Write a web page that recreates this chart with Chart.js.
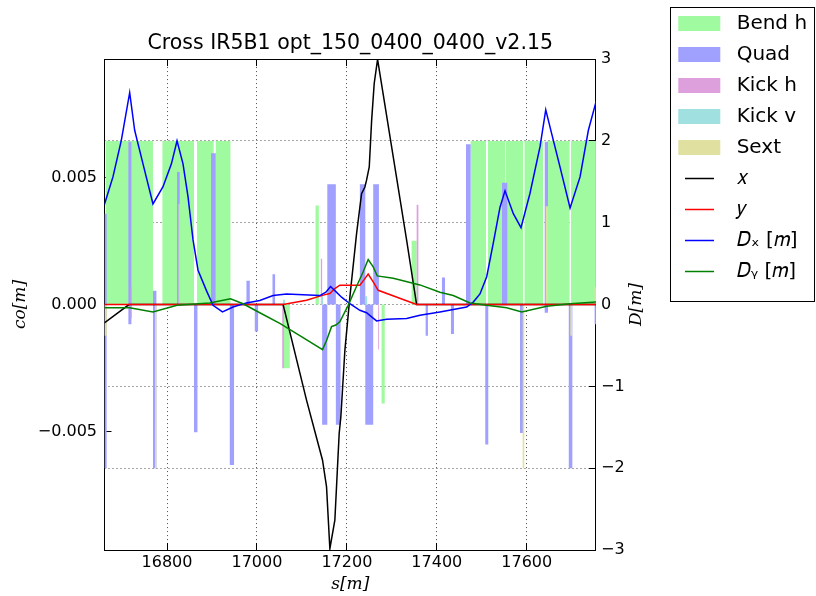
<!DOCTYPE html>
<html>
<head>
<meta charset="utf-8">
<script src="https://cdn.jsdelivr.net/npm/chart.js@4.4.1/dist/chart.umd.min.js"></script>
<style>
  html, body { margin: 0; padding: 0; background: #fff; }
  #wrap { width: 816px; height: 596px; }
</style>
</head>
<body>
<div id="wrap"><canvas id="c" width="816" height="596"></canvas></div>
<script>
// Longitudinal range and tick values
const sMin = 16661, sMax = 17754;
const sTicks = [16800, 17000, 17200, 17400, 17600];
const coMin = -0.00965, coMax = 0.00965;
const coTicks = [-0.005, 0, 0.005];
const coTickLabels = ['\u22120.005', '0.000', '0.005'];
const dTicks = [-3, -2, -1, 0, 1, 2, 3];
const dTickLabels = ['\u22123', '\u22122', '\u22121', '0', '1', '2', '3'];

// Lattice elements: start / end position [m], upper and lower bar height (D scale)
const bendStart = [16663, 16789.8, 16866.8, 16908.4, 17059.8, 17130.3, 17277.2, 17344.0, 17475.3, 17513.9, 17553.9, 17595.1, 17646.3, 17698.6];
const bendEnd   = [16768.8, 16860.1, 16903.9, 16941.1, 17073.1, 17137.7, 17284.5, 17355.1, 17509.4, 17551.7, 17591.8, 17636.3, 17695.3, 17763];
const bendHi    = [2, 2, 2, 2, 0, 1.21, 0, 0.78, 2, 2, 2, 2, 2, 2];
const bendLo    = [0, 0, 0, 0, -0.78, 0, -1.21, 0, 0, 0, 0, 0, 0, 0];

const quadStart = [16658, 16714.1, 16768.8, 16822.3, 16860.1, 16897.9, 16939.6, 16976.7, 16995.2, 17034.6, 17145.0, 17156.5, 17175.5, 17228.9, 17241.0, 17258.6, 17375.2, 17411.5, 17431.5, 17464.9, 17507.8, 17545.0, 17585.1, 17640.0, 17693.5, 17751.0];
const quadEnd   = [16665.8, 16720.8, 16776.4, 16828.3, 16867.7, 16908.4, 16949.1, 16984.1, 17002.6, 17040.4, 17156.5, 17175.5, 17186.0, 17241.0, 17258.6, 17271.3, 17380.3, 17418.2, 17438.2, 17475.3, 17514.5, 17556.8, 17592.4, 17647.4, 17701.5, 17758];
const quadHi    = [1.11, 1.99, 0.17, 1.62, 0, 1.85, 0, 0.29, 0, 0.37, 0, 1.47, 0, 1.47, 0, 1.47, 0, 0.33, 0, 1.96, 0, 1.49, 0, 1.99, 0, 0];
const quadLo    = [-2.0, -0.24, -2.0, 0, -1.56, 0, -1.96, 0, -0.33, 0, -1.47, 0, -1.47, 0, -1.47, 0, -0.38, 0, -0.36, 0, -1.71, 0, -1.57, -0.10, -2.0, -0.24];

const kickHStart = [16718.6, 17056.3, 17142.1, 17269.7, 17355.2];
const kickHEnd   = [16721.5, 17060.1, 17145.0, 17272.0, 17359.6];
const kickHHi    = [0.21, 0, 0.56, 0, 1.22];
const kickHLo    = [-0.17, -0.78, 0, -0.55, 0];

const kickVStart = [17057.2, 17142.5, 17240.0];
const kickVEnd   = [17062.3, 17147.0, 17245.4];
const kickVHi    = [0.06, 0.12, 0.10];
const kickVLo    = [0, 0, 0];

const sextStart = [16658, 16773.3, 16825.3, 17591.0, 17642.2, 17697.0, 17751.0];
const sextEnd   = [16666, 16776.4, 16828.3, 17594.6, 17647.4, 17701.0, 17758];
const sextHi    = [0, 0, 1.23, 0, 1.2, 0, 0.21];
const sextLo    = [-0.38, -2.0, 0, -2.0, 0, -0.38, 0];

// Closed orbit [m]
const orbitXs = [16660.7, 16715.5, 17058.2, 17110.3, 17145.9, 17154.8, 17162.2, 17173.3, 17182.9, 17186.6, 17195.6, 17206.7, 17221.6, 17232.7, 17240.1, 17243.8, 17249.8, 17255.1, 17260.8, 17268.3, 17332.9, 17355.1, 17754.2];
const orbitX  = [-0.00072, 0, 0, -0.00376, -0.00612, -0.00717, -0.0096, -0.00848, -0.00507, -0.00442, -0.0018, 0.0003, 0.00279, 0.00436, 0.00462, 0.00489, 0.00541, 0.00724, 0.00869, 0.00964, 0.00253, 0, 0];
const orbitYs = [16660.7, 17058.2, 17110.3, 17147.2, 17162.2, 17173.3, 17184.4, 17228.9, 17237.6, 17247.4, 17258.6, 17269.7, 17355.1, 17754.2];
const orbitY  = [0, 0, 0.00017, 0.00037, 0.00043, 0.00063, 0.00076, 0.00076, 0.00096, 0.0012, 0.00089, 0.00056, 0, 0];

// Dispersion [m]
const dispXs = [16660.7, 16679.8, 16698.5, 16717.0, 16728.1, 16746.6, 16768.8, 16791.1, 16809.8, 16822.3, 16835.6, 16846.7, 16857.9, 16869.0, 16887.7, 16902.4, 16923.3, 16946.9, 16976.7, 17006.3, 17036.0, 17065.8, 17139.9, 17153.3, 17163.7, 17173.3, 17188.2, 17206.7, 17228.9, 17243.8, 17255.0, 17266.1, 17288.4, 17332.9, 17362.5, 17407.0, 17466.4, 17481.1, 17496.0, 17511.0, 17525.6, 17540.6, 17551.7, 17570.2, 17587.3, 17607.3, 17629.6, 17642.3, 17656.3, 17674.1, 17696.4, 17718.6, 17737.1, 17754.2];
const dispX  = [1.22, 1.56, 2.01, 2.59, 2.13, 1.72, 1.23, 1.44, 1.72, 2.00, 1.72, 1.32, 0.79, 0.42, 0.17, -0.01, -0.09, -0.03, 0.02, 0.05, 0.11, 0.13, 0.11, 0.15, 0.22, 0.17, 0.09, 0.01, -0.07, -0.10, -0.15, -0.20, -0.18, -0.17, -0.13, -0.09, -0.03, 0.03, 0.13, 0.34, 0.75, 1.19, 1.39, 1.11, 0.94, 1.36, 1.93, 2.38, 2.07, 1.68, 1.18, 1.56, 2.13, 2.48];
const dispYs = [16660.7, 16717.0, 16768.8, 16822.3, 16895.0, 16941.1, 16969.2, 17006.3, 17050.9, 17095.4, 17145.9, 17154.8, 17165.9, 17175.5, 17184.4, 17202.9, 17221.4, 17236.3, 17247.4, 17258.6, 17267.5, 17303.1, 17362.5, 17407.0, 17436.6, 17473.8, 17511.0, 17555.5, 17588.9, 17644.5, 17696.4, 17754.2];
const dispY  = [-0.04, -0.04, -0.09, -0.01, 0.02, 0.07, 0.01, -0.10, -0.23, -0.38, -0.55, -0.44, -0.27, -0.25, -0.21, -0.01, 0.22, 0.40, 0.55, 0.46, 0.35, 0.32, 0.24, 0.15, 0.11, 0.02, -0.01, -0.04, -0.09, -0.02, 0.01, 0.03];

// ---------------------------------------------------------------

// Outline of a row of bars as a step path along zero, filled to the origin
function barOutline(start, end, h) {
  const pts = [];
  start.forEach((s0, i) => {
    if (!h[i]) return;
    pts.push({x: s0, y: 0}, {x: s0, y: h[i]}, {x: end[i], y: h[i]}, {x: end[i], y: 0});
  });
  return pts;
}
const zip = (s, v) => s.map((x, i) => ({x, y: v[i]}));

// Short line glyph for the legend
function lineGlyph(color) {
  const c = document.createElement('canvas');
  c.width = 29; c.height = 3;
  const g = c.getContext('2d');
  g.strokeStyle = color; g.lineWidth = 1.5;
  g.beginPath(); g.moveTo(0, 1.5); g.lineTo(29, 1.5); g.stroke();
  return c;
}

const elementTypes = [
  {name: ' Bend h', color: 'rgb(160,250,160)', start: bendStart, end: bendEnd, hi: bendHi, lo: bendLo, order: 8},
  {name: ' Quad',   color: 'rgb(160,160,255)', start: quadStart, end: quadEnd, hi: quadHi, lo: quadLo, order: 7},
  {name: ' Kick h', color: 'rgb(221,160,221)', start: kickHStart, end: kickHEnd, hi: kickHHi, lo: kickHLo, order: 6},
  {name: ' Kick v', color: 'rgb(160,224,224)', start: kickVStart, end: kickVEnd, hi: kickVHi, lo: kickVLo, order: 5},
  {name: ' Sext',   color: 'rgb(224,224,160)', start: sextStart, end: sextEnd, hi: sextHi, lo: sextLo, order: 4}
];

const datasets = [];
elementTypes.forEach(t => {
  [t.hi, t.lo].forEach((h, k) => {
    const pts = barOutline(t.start, t.end, h);
    if (!pts.length) return;
    datasets.push({
      legendText: k === 0 ? t.name : null,
      legendGlyph: 'rect',
      data: pts,
      xAxisID: 'x', yAxisID: 'yR',
      borderWidth: 0, pointRadius: 0,
      backgroundColor: t.color, borderColor: t.color,
      fill: 'origin', order: t.order
    });
  });
});

const curves = [
  {name: ' \u{1D465}', s: orbitXs, v: orbitX, color: '#000000', axis: 'yL', order: 3},
  {name: ' \u{1D466}', s: orbitYs, v: orbitY, color: '#ff0000', axis: 'yL', order: 2},
  {name: ' \u{1D437}\u2093 [\u{1D45A}]', s: dispXs, v: dispX, color: '#0000ff', axis: 'yR', order: 1},
  {name: ' \u{1D437}\u1D67 [\u{1D45A}]', s: dispYs, v: dispY, color: '#008000', axis: 'yR', order: 0}
];
curves.forEach(c => {
  datasets.push({
    legendText: c.name,
    legendGlyph: lineGlyph(c.color),
    data: zip(c.s, c.v),
    xAxisID: 'x', yAxisID: c.axis,
    borderColor: c.color, backgroundColor: c.color,
    borderWidth: 1.5, pointRadius: 0, fill: false, tension: 0,
    order: c.order
  });
});

const tickFont = {family: 'DejaVu Sans', size: 16};
const mathFont = {family: 'DejaVu Serif', style: 'italic', size: 17};
const dotted = {display: true, color: '#000', width: 1, dash: [1, 3]};

// Legend frame and the right-hand axis title
const decorations = {
  id: 'decorations',
  afterDraw(chart) {
    const {ctx, legend, scales} = chart;
    ctx.save();
    ctx.strokeStyle = '#000';
    ctx.lineWidth = 1;
    const x0 = Math.round(legend.left + 2.7) + 0.5;
    const y0 = Math.round(legend.top + 4.5) + 0.5;
    ctx.strokeRect(x0, y0, 144, 294);
    const yR = scales.yR;
    ctx.translate(yR.left + 41, (yR.top + yR.bottom) / 2);
    ctx.rotate(-Math.PI / 2);
    ctx.font = 'italic 17px "DejaVu Serif"';
    ctx.textAlign = 'center';
    ctx.textBaseline = 'middle';
    ctx.fillStyle = '#000';
    ctx.fillText('D[m]', 0, 0);
    ctx.restore();
  }
};

Chart.defaults.font.family = 'DejaVu Sans';
Chart.defaults.color = '#000';

new Chart(document.getElementById('c'), {
  type: 'line',
  data: {datasets},
  plugins: [decorations],
  options: {
    responsive: false,
    animation: false,
    devicePixelRatio: 1,
    events: [],
    layout: {padding: {top: 2.5, right: 3.7, left: 0, bottom: 0}},
    plugins: {
      tooltip: {enabled: false},
      title: {
        display: true,
        text: 'Cross IR5B1 opt_150_0400_0400_v2.15',
        font: {family: 'DejaVu Sans', size: 20.5, weight: 'normal', lineHeight: 1.17},
        color: '#000',
        padding: {top: 29.5, bottom: 3.1},
        fullSize: false
      },
      legend: {
        position: 'right',
        align: 'start',
        maxWidth: 145,
        labels: {
          usePointStyle: true,
          pointStyleWidth: 42,
          boxHeight: 15,
          padding: 11,
          color: '#000',
          font: {family: 'DejaVu Sans', size: 20},
          generateLabels(chart) {
            return chart.data.datasets.map((ds, i) => ds.legendText ? {
              text: ds.legendText,
              fillStyle: ds.backgroundColor,
              strokeStyle: ds.borderColor,
              lineWidth: 0,
              pointStyle: ds.legendGlyph,
              hidden: false,
              datasetIndex: i
            } : null).filter(Boolean);
          }
        }
      }
    },
    scales: {
      x: {
        type: 'linear', position: 'bottom', min: sMin, max: sMax, bounds: 'data',
        afterBuildTicks: s => { s.ticks = sTicks.map(v => ({value: v})); },
        afterFit: s => { s.height = 46; },
        ticks: {font: tickFont, color: '#000', padding: 10.2, maxRotation: 0, autoSkip: false,
                callback: v => String(v)},
        grid: {color: 'rgba(0,0,0,0.7)', lineWidth: 1, tickLength: -7, tickColor: '#000', tickWidth: 1},
        border: dotted,
        title: {display: true, text: 's[m]', font: mathFont, color: '#000', padding: {top: 0, bottom: 1.4}}
      },
      xTop: {
        type: 'linear', position: 'top', min: sMin, max: sMax, bounds: 'data',
        afterBuildTicks: s => { s.ticks = sTicks.map(v => ({value: v})); },
        afterFit: s => { s.height = 0; },
        ticks: {display: false},
        grid: {drawOnChartArea: false, tickLength: -7, tickColor: '#000', tickWidth: 1},
        border: {display: true, color: '#000', width: 1}
      },
      yL: {
        type: 'linear', position: 'left', min: coMin, max: coMax, bounds: 'data',
        afterBuildTicks: s => { s.ticks = coTicks.map(v => ({value: v})); },
        afterFit: s => { s.width = 104.5; },
        ticks: {font: tickFont, color: '#000', padding: 14.5, autoSkip: false,
                callback: v => coTickLabels[coTicks.indexOf(v)]},
        grid: {drawOnChartArea: false, tickLength: -7, tickColor: '#000', tickWidth: 1},
        border: {display: true, color: '#000', width: 1},
        title: {display: true, text: 'co[m]', font: mathFont, color: '#000', padding: {top: 10.4, bottom: 0}}
      },
      yR: {
        type: 'linear', position: 'right', min: -3, max: 3, bounds: 'data',
        afterBuildTicks: s => { s.ticks = dTicks.map(v => ({value: v})); },
        afterFit: s => { s.width = 71.33; },
        ticks: {font: tickFont, color: '#000', padding: 12, autoSkip: false,
                callback: v => dTickLabels[dTicks.indexOf(v)]},
        grid: {color: 'rgba(0,0,0,0.7)', lineWidth: 1, tickLength: -7, tickColor: '#000', tickWidth: 1},
        border: dotted
      }
    }
  }
});
</script>
</body>
</html>
